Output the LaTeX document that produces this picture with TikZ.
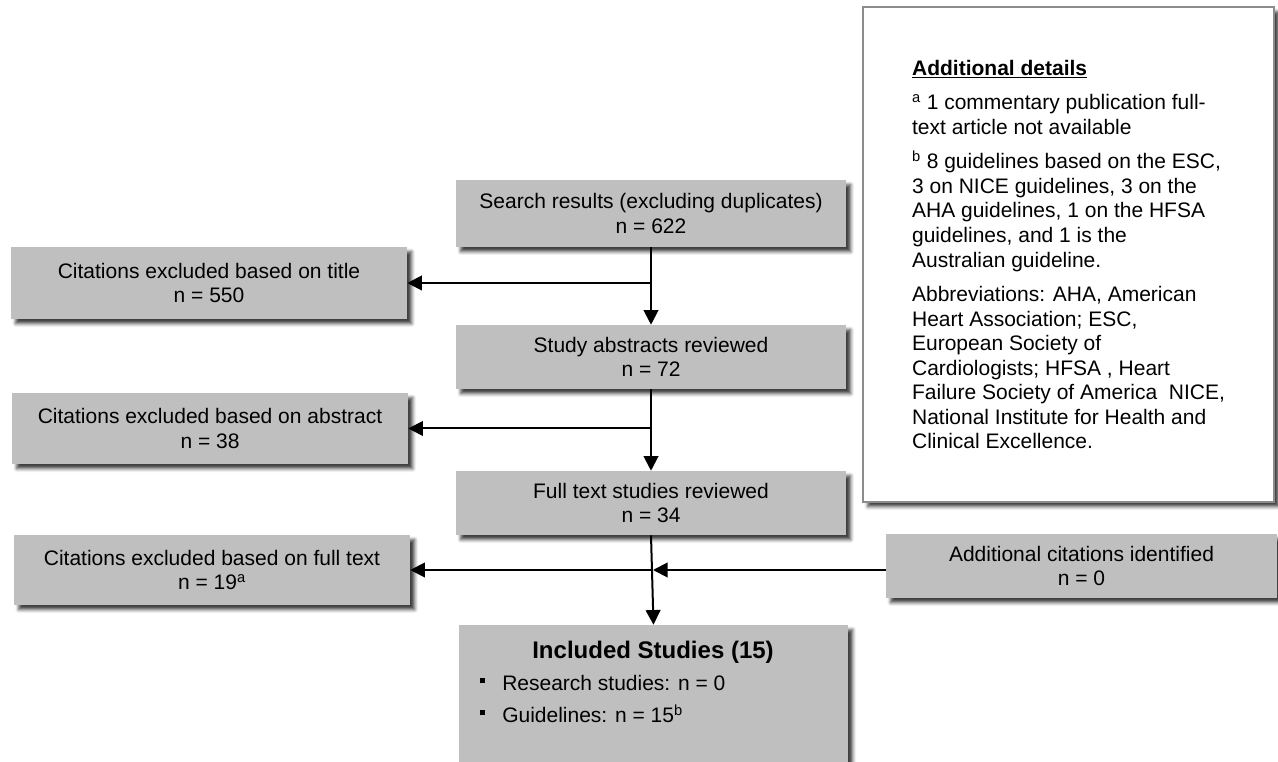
\documentclass[tikz,border=0pt]{standalone}
\usepackage{fontspec}
\setmainfont{Liberation Sans}
\usepackage{xcolor}
\usepackage{tikz}
\usetikzlibrary{positioning,arrows.meta,shadows.blur}
\newdimen\pxu \pxu=0.75pt
\definecolor{boxgray}{RGB}{191,191,191}
\definecolor{framegray}{RGB}{140,140,140}

\begin{document}
\begin{tikzpicture}[x=0.75pt,y=-0.75pt,
  every node/.style={font=\fontsize{15.75}{18.4}\selectfont,align=center,inner sep=0pt},
  shade/.style={blur shadow={shadow xshift=3.5pt,shadow yshift=-3.5pt,
                shadow blur radius=2.5pt,shadow opacity=75}},
  stepblk/.style={rectangle,fill=boxgray,minimum width=390\pxu,
                  minimum height=64\pxu,shade},
  exclblk/.style={rectangle,fill=boxgray,minimum width=396\pxu,
                  minimum height=71\pxu,shade},
  noteblk/.style={rectangle,draw=framegray,line width=1.5pt,fill=white,
                  minimum width=411\pxu,minimum height=495\pxu,align=left,shade},
  txt/.style={anchor=base west},
  arr/.style={-{Triangle[length=11pt,width=11pt]},line width=1.5pt,black},
]
\useasboundingbox (0,0) rectangle (1278,762);

\node[noteblk] at (1068.5,254.5) (details)
  {\textbf{\underline{Additional details}}\\[7.5pt]
   \textsuperscript{a} 1 commentary publication full-\\
   text article not available\\[7.5pt]
   \textsuperscript{b} 8 guidelines based on the ESC,\\
   3 on NICE guidelines, 3 on the\\
   AHA guidelines, 1 on the HFSA\\
   guidelines, and 1 is the\\
   Australian guideline.\\[7.5pt]
   Abbreviations: AHA, American\\
   Heart Association; ESC,\\
   European Society of\\
   Cardiologists; HFSA , Heart\\
   Failure Society of America~ NICE,\\
   National Institute for Health and\\
   Clinical Excellence.};

\node[stepblk,minimum height=67\pxu] at (651,213.5) (search)
  {Search results (excluding duplicates)\\n = 622};
\node[stepblk] at (651,357) (abstracts) {Study abstracts reviewed\\n = 72};
\node[stepblk] at (651,503) (fulltext)  {Full text studies reviewed\\n = 34};
\node[stepblk,minimum width=389\pxu,minimum height=150\pxu] at (653.5,700) (included) {};

\node[exclblk,minimum height=72\pxu] at (209,283) (excltitle)
  {Citations excluded based on title\\n = 550};
\node[exclblk] at (210,428.5) (exclabs)
  {Citations excluded based on abstract\\n = 38};
\node[exclblk,minimum height=70\pxu] at (212,570) (exclfull)
  {Citations excluded based on full text\\n = 19\textsuperscript{a}};
\node[stepblk,minimum width=391\pxu] at (1081.5,566) (addcit)
  {Additional citations identified\\n = 0};

% included studies
\node[anchor=base,font=\bfseries\fontsize{18}{21}\selectfont] at (653,658) (inctitle)
  {Included Studies (15)};
\node[txt] at (480,690.5) (incres)
  {\rule[5.4pt]{3.75pt}{3.75pt}\hspace{12.75pt}Research studies: n = 0};
\node[txt] at (480,722.5) (incguide)
  {\rule[5.4pt]{3.75pt}{3.75pt}\hspace{12.75pt}Guidelines: n = 15\textsuperscript{b}};

\draw[arr] (search) -- (abstracts);
\draw[arr] (search.south |- excltitle) -- (excltitle.east);
\draw[arr] (abstracts) -- (fulltext);
\draw[arr] (abstracts.south |- exclabs) -- (exclabs.east);
\draw[arr] (fulltext.south) -- (included.north);
\draw[arr] (fulltext.south |- exclfull) -- (exclfull.east);
\draw[arr] (addcit.west |- exclfull) -- ([xshift=1.5pt]fulltext.south |- exclfull);
\end{tikzpicture}
\end{document}
